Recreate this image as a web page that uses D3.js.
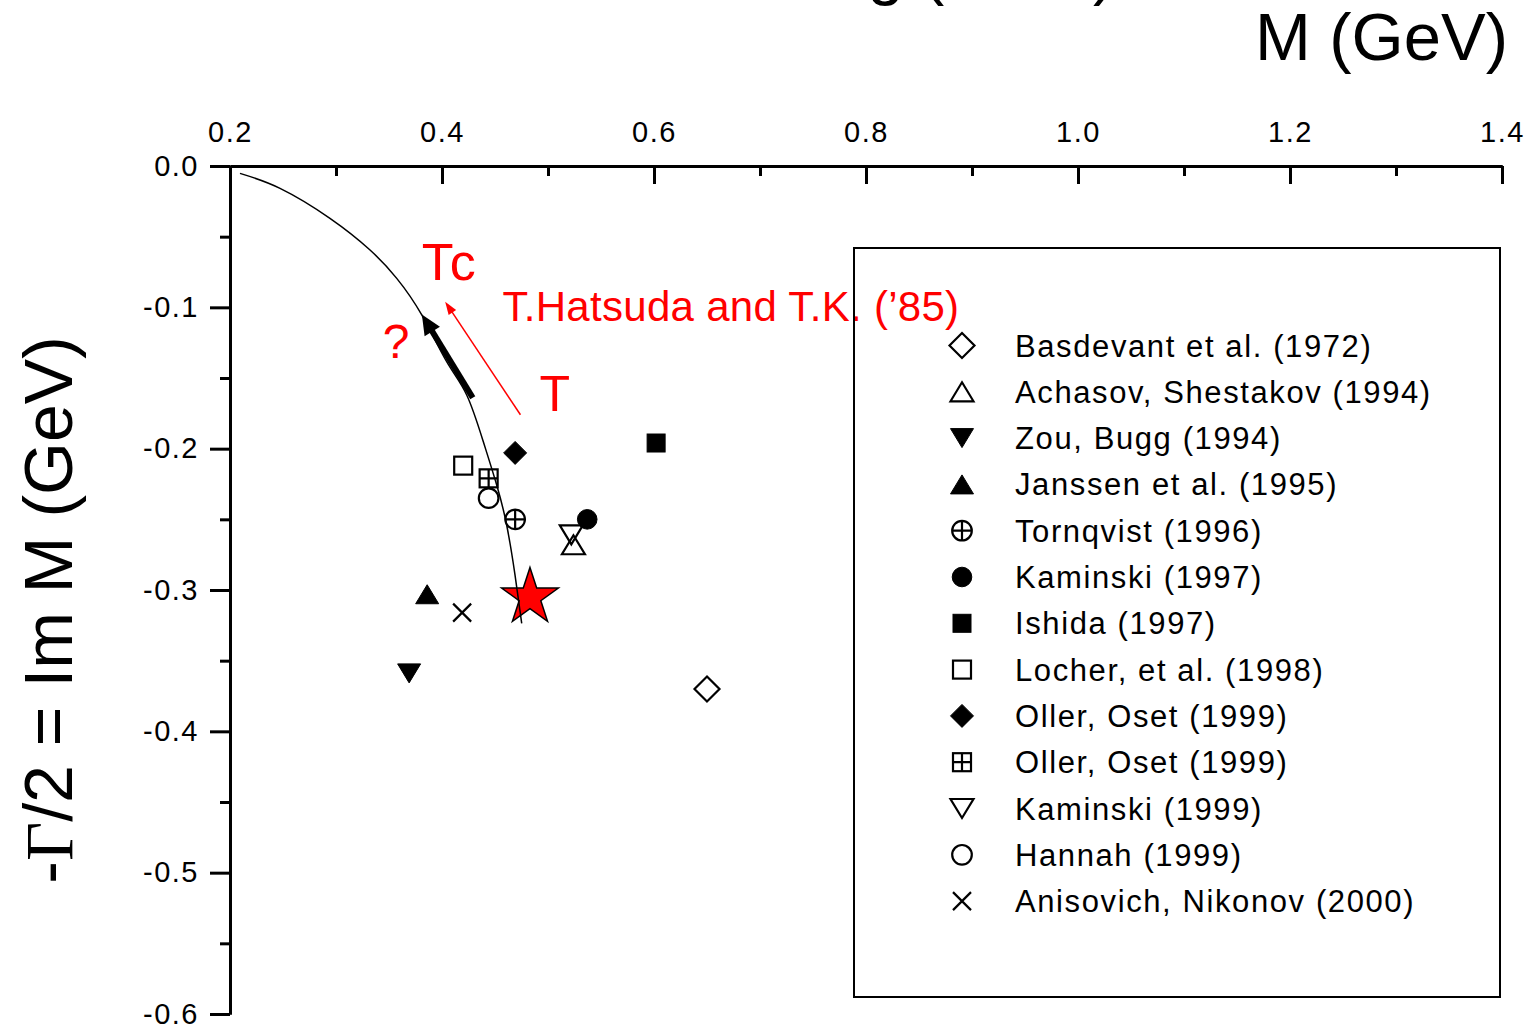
<!DOCTYPE html>
<html>
<head>
<meta charset="utf-8">
<script src="https://cdn.jsdelivr.net/npm/d3@7"></script>
<style>
  body { margin: 0; background: #fff; }
  svg { display: block; font-family: "Liberation Sans", Arial, Helvetica, sans-serif; }
</style>
</head>
<body>
<svg id="chart" width="1530" height="1026"></svg>
<script>
// ---- data ----
var refNames = [
  "Basdevant et al. (1972)",
  "Achasov, Shestakov (1994)",
  "Zou, Bugg (1994)",
  "Janssen et al. (1995)",
  "Tornqvist (1996)",
  "Kaminski (1997)",
  "Ishida (1997)",
  "Locher, et al. (1998)",
  "Oller, Oset (1999)",
  "Oller, Oset (1999)",
  "Kaminski (1999)",
  "Hannah (1999)",
  "Anisovich, Nikonov (2000)"
];
var refShapes = ["diamondOpen", "triUpOpen", "triDownFilled", "triUpFilled", "circlePlus",
  "circleFilled", "squareFilled", "squareOpen", "diamondFilled", "squarePlus",
  "triDownOpen", "circleOpen", "cross"];
var reM  = [0.650, 0.524, 0.369, 0.386, 0.469, 0.537, 0.602, 0.420, 0.469, 0.444, 0.522, 0.444, 0.419];
var imM  = [-0.370, -0.268, -0.359, -0.303, -0.250, -0.250, -0.196, -0.212, -0.203, -0.221, -0.261, -0.235, -0.316];

// pole trajectory (Hatsuda-Kunihiro)
var curveM = [0.2094, 0.2472, 0.2943, 0.3321, 0.3573, 0.3809, 0.4044, 0.4233, 0.4390, 0.4516, 0.4610, 0.4689, 0.4752];
var curveV = [-0.0052, -0.0158, -0.0370, -0.0594, -0.0795, -0.1054, -0.1385, -0.1620, -0.1951, -0.2257, -0.2540, -0.2894, -0.3236];

// the red star (T = 0 point)
var starM = 0.483, starV = -0.303;

// arrows: [fromM, fromV, toM, toV]
var blackArrow = [0.429, -0.164, 0.381, -0.105];
var redArrow = [0.474, -0.176, 0.403, -0.096];

var xMajor = [0.2, 0.4, 0.6, 0.8, 1.0, 1.2, 1.4];
var xMinor = [0.3, 0.5, 0.7, 0.9, 1.1, 1.3];
var yMajor = [0.0, -0.1, -0.2, -0.3, -0.4, -0.5, -0.6];
var yMinor = [-0.05, -0.15, -0.25, -0.35, -0.45, -0.55];

var svg = d3.select("#chart");

var x = d3.scaleLinear().domain([0.2, 1.4]).range([230, 1502]);
var y = d3.scaleLinear().domain([0, -0.6]).range([166, 1014]);

// cut-off heading at the very top
svg.append("text")
  .attr("x", 1115).attr("y", -8)
  .attr("text-anchor", "end")
  .attr("font-size", 66)
  .text("Pole tracking (T \u2260 0)");

// top axis title
svg.append("text")
  .attr("x", 1508).attr("y", 60)
  .attr("text-anchor", "end")
  .attr("font-size", 67)
  .text("M (GeV)");

// left axis title
var yl = svg.append("text")
  .attr("transform", "translate(72,610) rotate(-90)")
  .attr("text-anchor", "middle")
  .attr("font-size", 68);
yl.append("tspan").text("-");
yl.append("tspan").attr("font-family", "'Liberation Serif', 'Times New Roman', serif").text("\u0393");
yl.append("tspan").text("/2 = Im M (GeV)");

// ---- axes ----
var xAxis = d3.axisTop(x)
  .tickValues(xMajor)
  .tickSizeInner(-18)
  .tickSizeOuter(0)
  .tickPadding(24)
  .tickFormat(function(d) { return d.toFixed(1); });

var xMinorAxis = d3.axisTop(x)
  .tickValues(xMinor)
  .tickSizeInner(-10)
  .tickSizeOuter(0)
  .tickFormat("");

var yAxis = d3.axisLeft(y)
  .tickValues(yMajor)
  .tickSizeInner(20)
  .tickSizeOuter(0)
  .tickPadding(11)
  .tickFormat(function(d) { return d.toFixed(1); });

var yMinorAxis = d3.axisLeft(y)
  .tickValues(yMinor)
  .tickSizeInner(10)
  .tickSizeOuter(0)
  .tickFormat("");

function styleAxis(g) {
  g.selectAll("path, line").attr("stroke", "#000").attr("stroke-width", 3);
  g.selectAll("text")
    .attr("fill", "#000")
    .attr("font-size", 29)
    .attr("letter-spacing", 1.5)
    .attr("font-family", "'Liberation Sans', Arial, sans-serif");
}

svg.append("g").attr("transform", "translate(0,166)").call(xMinorAxis).call(styleAxis);
svg.append("g").attr("transform", "translate(0,166)").call(xAxis).call(styleAxis);
svg.append("g").attr("transform", "translate(230,0)").call(yMinorAxis).call(styleAxis);
svg.append("g").attr("transform", "translate(230,0)").call(yAxis).call(styleAxis);

// ---- marker drawing ----
function drawMarker(g, shape) {
  var open = { fill: "none", stroke: "#000", "stroke-width": 2.2 };
  var filled = { fill: "#000", stroke: "#000", "stroke-width": 1 };
  function put(el, st) { for (var k in st) el.attr(k, st[k]); return el; }
  var d = 12.5, tw = 11.5, th = 9.5, sq = 9, r = 9.8, c = 9;
  switch (shape) {
    case "diamondOpen":
      put(g.append("path").attr("d", "M0," + (-d) + "L" + d + ",0L0," + d + "L" + (-d) + ",0Z"), open); break;
    case "diamondFilled":
      put(g.append("path").attr("d", "M0,-11.5L11.5,0L0,11.5L-11.5,0Z"), filled); break;
    case "triUpOpen":
      put(g.append("path").attr("d", "M0," + (-th) + "L" + tw + "," + th + "L" + (-tw) + "," + th + "Z"), open); break;
    case "triUpFilled":
      put(g.append("path").attr("d", "M0," + (-th) + "L" + tw + "," + th + "L" + (-tw) + "," + th + "Z"), filled); break;
    case "triDownOpen":
      put(g.append("path").attr("d", "M" + (-tw) + "," + (-th) + "L" + tw + "," + (-th) + "L0," + th + "Z"), open); break;
    case "triDownFilled":
      put(g.append("path").attr("d", "M" + (-tw) + "," + (-th) + "L" + tw + "," + (-th) + "L0," + th + "Z"), filled); break;
    case "squareOpen":
      put(g.append("rect").attr("x", -sq).attr("y", -sq).attr("width", 2 * sq).attr("height", 2 * sq), open); break;
    case "squareFilled":
      put(g.append("rect").attr("x", -sq).attr("y", -sq).attr("width", 2 * sq).attr("height", 2 * sq), filled); break;
    case "squarePlus":
      put(g.append("rect").attr("x", -sq).attr("y", -sq).attr("width", 2 * sq).attr("height", 2 * sq), open);
      put(g.append("path").attr("d", "M" + (-sq) + ",0H" + sq + "M0," + (-sq) + "V" + sq), open); break;
    case "circleOpen":
      put(g.append("circle").attr("r", r), open); break;
    case "circleFilled":
      put(g.append("circle").attr("r", r), filled); break;
    case "circlePlus":
      put(g.append("circle").attr("r", r), open);
      put(g.append("path").attr("d", "M" + (-r) + ",0H" + r + "M0," + (-r) + "V" + r), open); break;
    case "cross":
      put(g.append("path").attr("d", "M" + (-c) + "," + (-c) + "L" + c + "," + c + "M" + c + "," + (-c) + "L" + (-c) + "," + c), open); break;
  }
}

// ---- data points ----
var points = refNames.map(function(n, i) {
  return { name: n, shape: refShapes[i], m: reM[i], v: imM[i] };
});

svg.append("g").selectAll("g")
  .data(points)
  .enter()
  .append("g")
  .attr("transform", function(d) { return "translate(" + x(d.m) + "," + y(d.v) + ")"; })
  .each(function(d) { drawMarker(d3.select(this), d.shape); });

// red star
var star = d3.symbol().type(d3.symbolStar).size(1000);
svg.append("path")
  .attr("d", star())
  .attr("transform", "translate(" + x(starM) + "," + (y(starV) + 3) + ")")
  .attr("fill", "#ff0000")
  .attr("stroke", "#000")
  .attr("stroke-width", 1.5);

// trajectory curve
var traj = curveM.map(function(m, i) { return [m, curveV[i]]; });
var line = d3.line()
  .x(function(d) { return x(d[0]); })
  .y(function(d) { return y(d[1]); })
  .curve(d3.curveNatural);

svg.append("path")
  .datum(traj)
  .attr("d", line)
  .attr("fill", "none")
  .attr("stroke", "#000")
  .attr("stroke-width", 1.5);

// arrows
function drawArrow(a, color, width, headLen, headHalf) {
  var x0 = x(a[0]), y0 = y(a[1]), x1 = x(a[2]), y1 = y(a[3]);
  var ang = Math.atan2(y1 - y0, x1 - x0);
  var bx = x1 - headLen * Math.cos(ang), by = y1 - headLen * Math.sin(ang);
  svg.append("line")
    .attr("x1", x0).attr("y1", y0)
    .attr("x2", bx + 2 * Math.cos(ang)).attr("y2", by + 2 * Math.sin(ang))
    .attr("stroke", color)
    .attr("stroke-width", width);
  var px = -Math.sin(ang), py = Math.cos(ang);
  svg.append("path")
    .attr("d", "M" + x1 + "," + y1 +
      "L" + (bx + px * headHalf) + "," + (by + py * headHalf) +
      "L" + (bx - px * headHalf) + "," + (by - py * headHalf) + "Z")
    .attr("fill", color);
}
drawArrow(blackArrow, "#000", 6, 20, 9);
drawArrow(redArrow, "#ff0000", 1.5, 13, 4.5);

// red annotations
var notes = [
  { t: "Tc", m: 0.381, v: -0.0806, s: 52, ls: 2 },
  { t: "?", m: 0.344, v: -0.136, s: 48, ls: 0 },
  { t: "T", m: 0.492, v: -0.173, s: 50, ls: 0 },
  { t: "T.Hatsuda and T.K. (\u201985)", m: 0.457, v: -0.110, s: 42, ls: 0.3 }
];
svg.append("g").selectAll("text")
  .data(notes)
  .enter()
  .append("text")
  .attr("x", function(d) { return x(d.m); })
  .attr("y", function(d) { return y(d.v); })
  .attr("font-size", function(d) { return d.s; })
  .attr("letter-spacing", function(d) { return d.ls; })
  .attr("fill", "#ff0000")
  .text(function(d) { return d.t; });

// ---- legend ----
var legend = svg.append("g");
legend.append("rect")
  .attr("x", 854).attr("y", 248)
  .attr("width", 646).attr("height", 749)
  .attr("fill", "none")
  .attr("stroke", "#000")
  .attr("stroke-width", 2);

var rows = legend.selectAll("g.row")
  .data(points)
  .enter()
  .append("g")
  .attr("class", "row")
  .attr("transform", function(d, i) { return "translate(962," + (345.5 + i * 46.3) + ")"; });

rows.each(function(d) { drawMarker(d3.select(this), d.shape); });

rows.append("text")
  .attr("x", 53)
  .attr("y", 11)
  .attr("font-size", 31)
  .attr("letter-spacing", 1.6)
  .text(function(d) { return d.name; });
</script>
</body>
</html>
